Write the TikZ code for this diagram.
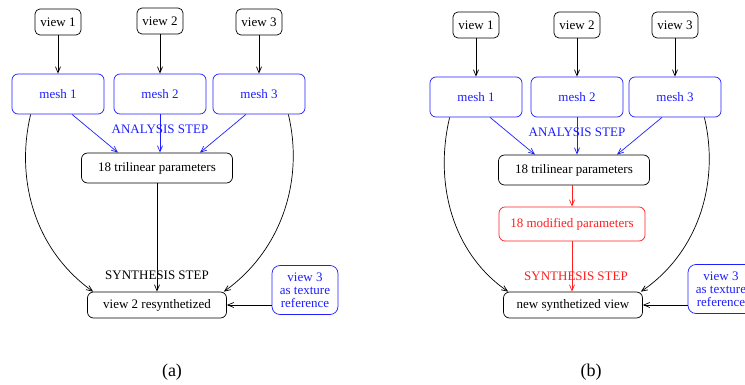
\documentclass[tikz,border=0pt]{standalone}
\usepackage{fontspec}
\setmainfont{Liberation Serif}
\usetikzlibrary{arrows.meta}

\definecolor{meshblue}{RGB}{30,30,255}
\definecolor{modred}{RGB}{255,30,30}

\begin{document}
\begin{tikzpicture}[x=1pt,y=-1pt,>={Straight Barb[length=6pt,width=5pt]},
  every node/.style={font=\fontsize{13}{13}\selectfont},
  line width=0.7pt]
\useasboundingbox (0,0) rectangle (745,385);

\tikzstyle{viewbox}=[draw,rounded corners=5pt,minimum width=46pt,minimum height=26pt,inner sep=1pt]
\tikzstyle{meshbox}=[draw=meshblue,text=meshblue,rounded corners=6pt,minimum width=92pt,minimum height=40pt]
\tikzstyle{parbox}=[draw,rounded corners=6pt,minimum width=151pt,minimum height=30pt]
\tikzstyle{resbox}=[draw,rounded corners=6pt,minimum width=139pt,minimum height=26pt]
\tikzstyle{texbox}=[draw=meshblue,text=meshblue,rounded corners=8pt,align=center,
  minimum width=66pt,minimum height=49pt,inner sep=1pt,font=\fontsize{13}{13}\selectfont]
\tikzstyle{blueline}=[draw=meshblue,->]
\tikzstyle{redline}=[draw=modred,->]

% (a) analysis + resynthesis
\node[viewbox] (V1a) at (58,22) {view 1};
\node[viewbox] (V2a) at (160,21) {view 2};
\node[viewbox] (V3a) at (259,22) {\raisebox{-5pt}{view 3}};
\node[meshbox] (M1a) at (58,94) {mesh 1};
\node[meshbox] (M2a) at (160,94) {mesh 2};
\node[meshbox] (M3a) at (259,94) {mesh 3};
\draw[->] (V1a) -- (M1a);
\draw[->] (V2a) -- (M2a);
\draw[->] (V3a) -- (M3a);
\node[parbox] (Pa) at (157,168) {18 trilinear parameters};
\node[text=meshblue] (ANa) at (160,129) {ANALYSIS STEP};
\draw[blueline] ([xshift=14pt]M1a.south) -- ([xshift=-39pt]Pa.north);
\draw[blueline] (M2a.south) -- (M2a.south |- Pa.north);
\draw[blueline] ([xshift=-13pt]M3a.south) -- ([xshift=43pt]Pa.north);
\node[resbox] (Ra) at (157,305) {view 2 resynthetized};
\node (SYa) at (157,275) {SYNTHESIS STEP};
\draw[->] (Pa.south) -- (Ra.north);
\draw[->] ([xshift=19pt]M1a.south west) .. controls (15,180) and (35,250) .. ([xshift=6pt]Ra.north west);
\draw[->] ([xshift=-17pt]M3a.south east) .. controls (304,180) and (282,250) .. ([xshift=-3pt]Ra.north east);
\node[texbox] (Ta) at (305,290) {view 3\\as texture\\reference};
\draw[->] (Ta.west |- Ra.east) -- (Ra.east);
\node[font=\fontsize{18}{18}\selectfont] (capa) at (172,372) {(a)};

% (b) analysis + modification + synthesis
\node[viewbox] (V1b) at (476,25) {view 1};
\node[viewbox] (V2b) at (577,25) {view 2};
\node[viewbox] (V3b) at (675,25) {\raisebox{-5pt}{view 3}};
\node[meshbox] (M1b) at (476,97) {mesh 1};
\node[meshbox] (M2b) at (577,97) {mesh 2};
\node[meshbox] (M3b) at (675,97) {mesh 3};
\draw[->] (V1b) -- (M1b);
\draw[->] (V2b) -- (M2b);
\draw[->] (V3b) -- (M3b);
\node[parbox] (Pb) at (574,170) {18 trilinear parameters};
\node[text=meshblue] (ANb) at (577,132) {ANALYSIS STEP};
\draw[blueline] ([xshift=14pt]M1b.south) -- ([xshift=-39pt]Pb.north);
\draw[blueline] (M2b.south) -- (M2b.south |- Pb.north);
\draw[blueline] ([xshift=-13pt]M3b.south) -- ([xshift=43pt]Pb.north);
\node[parbox,draw=modred,text=modred,minimum width=146pt,minimum height=34pt] (Qb) at (572,224) {18 modified parameters};
\draw[redline] (Pb.south -| Qb.north) -- (Qb.north);
\node[resbox] (Rb) at (573,305) {new synthetized view\hspace{10pt}};
\node[text=modred] (SYb) at (576,276) {SYNTHESIS STEP};
\draw[redline] (Qb.south) -- (Qb.south |- Rb.north);
\draw[->] ([xshift=20pt]M1b.south west) .. controls (434,183) and (452,253) .. ([xshift=5pt]Rb.north west);
\draw[->] ([xshift=-17pt]M3b.south east) .. controls (720,183) and (698,253) .. ([xshift=-2pt]Rb.north east);
\node[texbox] (Tb) at (721,289) {view 3\\as texture\\reference};
\draw[->] (Tb.west |- Rb.east) -- (Rb.east);
\node[font=\fontsize{18}{18}\selectfont] (capb) at (591,372) {(b)};
\end{tikzpicture}
\end{document}
